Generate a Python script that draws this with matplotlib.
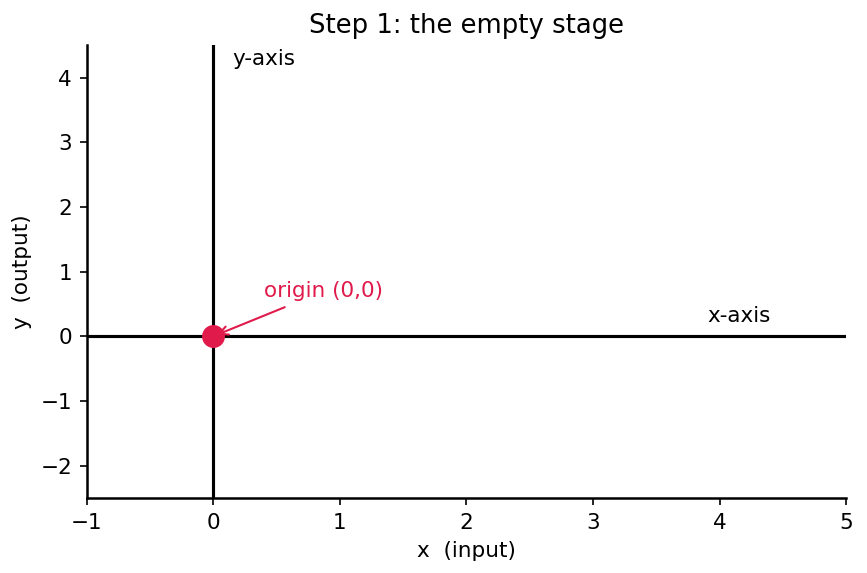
import matplotlib
matplotlib.use("Agg")
import matplotlib.pyplot as plt

# limites y ejes
x_lim = [-1, 5]
y_lim = [-2.5, 4.5]
x_ticks = [-1, 0, 1, 2, 3, 4, 5]
y_ticks = [-2, -1, 0, 1, 2, 3, 4]

# punto de origen y etiquetas
origen_x = [0]
origen_y = [0]
rojo = '#e01a4b'

plt.rcParams['font.size'] = 10.3

fig, ax = plt.subplots(figsize=(5.78, 3.82), dpi=150)
fig.subplots_adjust(left=0.1, right=0.976, top=0.921, bottom=0.131)

ax.axhline(0, color='black', lw=1.5, zorder=2)
ax.axvline(0, color='black', lw=1.5, zorder=2)
ax.plot(origen_x, origen_y, 'o', color=rojo, markersize=10, zorder=3)

ax.annotate('origin (0,0)', xy=(0, 0), xytext=(0.4, 0.6), color=rojo,
            arrowprops=dict(arrowstyle='->', color=rojo, lw=1.0))
ax.text(3.9, 0.22, 'x-axis')
ax.text(0.15, 4.2, 'y-axis')

ax.set_xlim(x_lim)
ax.set_ylim(y_lim)
ax.set_xticks(x_ticks)
ax.set_yticks(y_ticks)
for s in ['top', 'right']:
    ax.spines[s].set_visible(False)
for s in ['left', 'bottom']:
    ax.spines[s].set_linewidth(1.2)

ax.set_title('Step 1: the empty stage', fontsize=12.4)
ax.set_xlabel('x  (input)')
ax.set_ylabel('y  (output)')

fig.savefig('out.png', dpi=150)
